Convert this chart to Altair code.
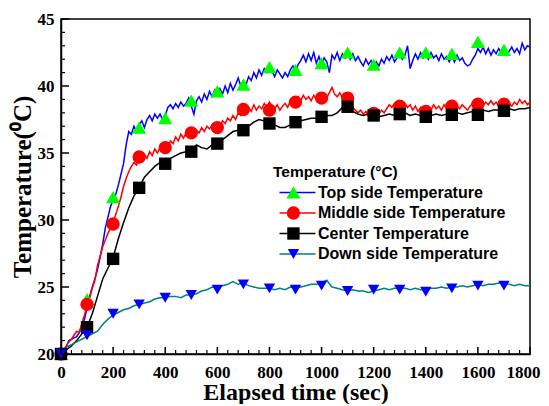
import altair as alt
import pandas as pd

names = ["Top side Temperature", "Middle side Temperature", "Center Temperature", "Down side Temperature"]
line_colors = ["#0000ff", "#ff0000", "#000000", "#008080"]
marker_colors = ["#00ff00", "#ff0000", "#000000", "#0000ff"]
marker_shapes = ["triangle-up", "circle", "square", "triangle-down"]
marker_sizes = [200, 130, 125, 200]

# time axis of the noisy top / middle records (10 s step)
t10 = list(range(0, 1801, 10))
# time axis of the smoother center / down records (20 s step)
t20 = list(range(0, 1801, 20))

top = [
    20.0, 20.2, 20.5, 21.0, 21.1, 21.2, 21.3, 21.6, 22.1, 22.6,
    23.4, 24.3, 25.0, 25.6, 26.3, 27.2, 28.2, 29.4, 30.2, 31.0,
    31.5, 31.9, 32.6, 33.4, 34.2, 35.6, 36.6, 36.4, 37.0, 36.6,
    37.1, 37.4, 36.9, 37.5, 37.8, 37.4, 37.9, 37.6, 37.9, 37.5,
    37.8, 38.4, 38.6, 38.3, 38.7, 38.4, 38.8, 38.5, 38.7, 39.1,
    38.5, 37.9, 38.9, 39.2, 38.8, 39.4, 39.0, 39.6, 39.2, 39.7,
    39.3, 39.8, 39.4, 40.0, 39.5, 40.2, 39.7, 40.1, 40.6, 40.0,
    40.4, 40.1, 40.7, 40.4, 41.0, 40.6, 41.2, 40.8, 41.3, 41.0,
    41.4, 41.1, 40.7, 41.2, 40.9, 40.6, 41.0, 40.7, 41.2, 41.5,
    41.1, 41.6, 41.9, 42.3, 41.8, 42.4, 41.9, 42.5, 41.7, 42.2,
    41.6, 42.1, 41.8, 41.0, 42.3, 42.0, 42.5, 41.9, 42.4, 42.1,
    42.6, 42.0, 42.4, 41.9, 42.2, 41.8, 41.5, 42.0, 41.6, 41.9,
    41.4, 41.8, 41.5, 42.0, 41.7, 42.2, 41.9, 42.3, 41.8, 42.1,
    42.4, 42.0, 42.3, 43.0, 41.3, 41.9, 42.4, 42.0, 42.5, 42.1,
    42.4, 42.0, 42.5, 42.1, 42.3, 41.9, 42.4, 42.0, 42.2, 41.8,
    42.2, 41.8, 42.3, 41.9, 42.1, 41.7, 41.5, 41.6, 42.0, 42.3,
    42.8, 42.5, 42.9, 42.4, 42.8, 42.3, 42.7, 42.4, 42.8, 42.5,
    42.7, 42.3, 42.6, 42.9, 42.5, 42.8, 42.4, 43.2, 42.7, 43.0,
    42.9,
]

middle = [
    20.0, 20.3, 20.6, 20.9, 21.1, 21.4, 21.7, 21.6, 22.3, 22.9,
    23.6, 24.2, 24.9, 25.5, 26.6, 27.3, 28.0, 28.5, 29.0, 29.4,
    29.8, 30.4, 31.0, 31.7, 32.5, 33.1, 33.6, 34.0, 34.3, 34.1,
    34.6, 34.4, 34.9, 34.6, 35.1, 34.8, 35.3, 35.0, 35.4, 35.2,
    35.6, 35.4, 35.9, 35.7, 36.2, 35.9, 36.4, 36.1, 36.5, 36.3,
    36.6, 36.3, 36.7, 36.5, 36.9, 36.6, 37.0, 36.8, 37.1, 36.9,
    37.2, 37.0, 37.4, 37.2, 37.6, 37.4, 37.8, 37.5, 38.0, 37.8,
    38.2, 38.0, 38.4, 38.1, 38.6, 38.2, 38.5, 38.3, 38.7, 38.4,
    38.8, 38.5, 38.3, 38.6, 38.2, 38.5, 38.7, 38.4, 38.9, 39.1,
    38.8, 39.2, 38.9, 39.3, 39.0, 39.2, 38.9, 39.3, 39.0, 39.2,
    38.9, 39.3, 39.1, 39.5, 39.9, 39.4, 39.2, 39.5, 39.1, 39.3,
    39.0, 38.7, 38.4, 38.2, 38.0, 38.2, 37.9, 38.1, 37.8, 38.0,
    37.8, 38.1, 37.9, 38.2, 38.0, 38.3, 38.6, 38.4, 38.7, 38.5,
    38.6, 38.3, 38.7, 38.4, 38.6, 38.2, 38.5, 38.1, 38.4, 38.0,
    38.2, 38.5, 38.2, 38.6, 38.3, 38.5, 38.2, 38.6, 38.3, 38.5,
    38.4, 38.2, 38.5, 38.3, 38.6, 38.4, 38.2, 38.5, 38.7, 38.9,
    38.6, 38.8, 38.5, 38.8, 38.6, 38.9, 38.6, 38.8, 38.5, 38.8,
    38.6, 38.9, 38.7, 38.5, 38.8, 38.6, 39.0, 38.7, 38.9, 38.6,
    38.8,
]

center = [
    20.0, 20.3, 20.6, 21.0, 21.5, 22.0, 23.0, 24.3, 25.6, 26.4,
    27.2, 28.6, 29.8, 30.9, 31.8, 32.4, 33.2, 33.6, 34.0, 34.3,
    34.3, 34.6, 34.8, 35.0, 35.1, 35.2, 35.6, 35.4, 35.3, 35.6,
    35.8, 36.0, 36.3, 36.6, 36.7, 36.7, 37.0, 37.3, 37.5, 37.4,
    37.2, 37.1, 36.9, 36.9, 37.1, 37.3, 37.4, 37.5, 37.6, 37.6,
    37.7, 37.8, 37.8, 38.0, 38.4, 38.5, 38.1, 37.9, 37.8, 37.9,
    37.8, 37.7, 37.8, 37.9, 37.8, 37.9, 38.0, 37.8, 37.9, 37.8,
    37.7, 37.8, 37.9, 37.8, 37.9, 37.9, 38.0, 37.9, 38.0, 38.1,
    38.0, 38.2, 38.1, 38.2, 38.2, 38.2, 38.3, 38.2, 38.3, 38.3,
    38.4,
]

down = [
    20.0, 20.5, 20.7, 20.9, 21.1, 21.3, 21.5, 21.7, 22.2, 22.6,
    22.9, 23.1, 23.3, 23.4, 23.6, 23.7, 23.8, 23.9, 24.1, 24.2,
    24.2, 24.3, 24.3, 24.2, 24.4, 24.4, 24.5, 24.7, 24.8, 25.0,
    24.9, 25.1, 25.2, 25.4, 25.2, 25.3, 25.1, 25.0, 24.9, 24.9,
    24.9, 24.8, 24.9, 24.8, 25.0, 24.9, 25.0, 25.1, 25.2, 25.2,
    25.3, 25.5, 25.0, 24.9, 24.8, 24.7, 24.8, 24.7, 24.7, 24.6,
    24.7, 24.8, 24.9, 24.8, 24.9, 24.9, 24.9, 24.8, 24.9, 24.8,
    24.8, 24.9, 24.9, 25.0, 24.9, 25.0, 25.0, 25.1, 25.0, 25.1,
    25.2, 25.1, 25.2, 25.2, 25.3, 25.2, 25.2, 25.1, 25.2, 25.1,
    25.1,
]

# marker samples every 100 s
t_mark = list(range(0, 1701, 100))
top_mark = [20.0, 24.1, 31.7, 36.9, 37.6, 38.9, 39.6, 40.1, 41.4, 41.2, 41.7, 42.5, 41.6, 42.5, 42.5, 42.4, 43.3, 42.7]
mid_mark = [20.0, 23.7, 29.7, 34.7, 35.4, 36.5, 36.9, 38.25, 38.2, 38.8, 39.1, 39.1, 37.95, 38.5, 38.1, 38.5, 38.65, 38.65]
center_mark = [20.0, 22.0, 27.1, 32.4, 34.2, 35.1, 35.7, 36.7, 37.2, 37.3, 37.7, 38.45, 37.8, 37.9, 37.7, 37.85, 37.85, 38.15]
down_mark = [20.0, 21.4, 23.0, 23.7, 24.2, 24.4, 24.8, 25.2, 24.9, 24.8, 25.1, 24.7, 24.8, 24.8, 24.65, 24.9, 25.1, 25.1]

x_major = list(range(0, 1801, 200))
x_minor = [v for v in range(0, 1801, 40) if v % 200 != 0]
y_major = [20, 25, 30, 35, 40, 45]
y_minor = [v for v in range(20, 46) if v % 5 != 0]

W, H = 469, 335

rows = []
for name, ts, vals in [(names[0], t10, top), (names[1], t10, middle),
                       (names[2], t20, center), (names[3], t20, down)]:
    for t, v in zip(ts, vals):
        rows.append({"t": t, "temp": v, "series": name})
lines_df = pd.DataFrame(rows)

mrows = []
for name, vals in zip(names, [top_mark, mid_mark, center_mark, down_mark]):
    for t, v in zip(t_mark, vals):
        mrows.append({"t": t, "temp": v, "series": name})
marks_df = pd.DataFrame(mrows)

xscale = alt.Scale(domain=[0, 1800], nice=False, zero=False)
yscale = alt.Scale(domain=[20, 45], nice=False, zero=False)

serif = "Liberation Serif"
sans = "Liberation Sans"

xaxis = alt.Axis(
    values=x_major, format="d", title="Elapsed time (sec)", ticks=False, tickSize=0, grid=False,
    labelFont=serif, labelFontSize=17, labelFontWeight="bold", labelColor="black",
    labelPadding=10, labelOverlap=False, labelFlush=False,
    labelOffset={"condition": {"test": "datum.value == 1800", "value": -7}, "value": 0},
    titleFont=serif, titleFontSize=24, titleFontWeight="bold", titleColor="black",
    titlePadding=0, domainColor="black", domainWidth=1.5)
yaxis = alt.Axis(
    values=y_major, format="d", title="Temperature(⁰C)", ticks=False, tickSize=0, grid=False,
    labelFont=serif, labelFontSize=17, labelFontWeight="bold", labelColor="black",
    labelPadding=7, labelOverlap=False, labelFlush=False,
    titleFont=serif, titleFontSize=25, titleFontWeight="bold", titleColor="black",
    titlePadding=2, domainColor="black", domainWidth=1.5)

# legend geometry (plot-relative px)
LX, LY = 212, 146
LINE_SIZE = 36              # symbol unit = sqrt(36)/2 = 3 px
LINE_PATH = "M-0.5,0H11.5"  # 12 units -> 36 px line
LABEL_FS = 16
ROW_PAD = 4.5

lines = alt.Chart(lines_df).mark_line(strokeWidth=1.5, clip=True).encode(
    x=alt.X("t:Q", scale=xscale, axis=xaxis),
    y=alt.Y("temp:Q", scale=yscale, axis=yaxis),
    stroke=alt.Stroke("series:N", scale=alt.Scale(domain=names, range=line_colors),
                      legend=alt.Legend(
                          orient="none", legendX=LX, legendY=LY, padding=0,
                          title="Temperature (°C)", symbolType=LINE_PATH, symbolSize=LINE_SIZE,
                          symbolStrokeWidth=1.5,
                          titleFont=sans, titleFontSize=15.5, titleFontWeight="bold", titleColor="black",
                          titlePadding=4,
                          labelFont=sans, labelFontSize=LABEL_FS, labelFontWeight="bold", labelColor="black",
                          labelLimit=400, labelOffset=29, rowPadding=ROW_PAD)),
    detail="series:N",
    order="t:Q",
)

legend_marks = alt.Legend(
    orient="none", legendX=LX + 19.5 - 7.07, legendY=LY, padding=0,
    title="Temperature (°C)", symbolOpacity=1, symbolStrokeWidth=0,
    titleFont=sans, titleFontSize=15.5, titleFontWeight="bold", titleOpacity=0,
    titlePadding=4,
    labelFont=sans, labelFontSize=LABEL_FS, labelFontWeight="bold", labelOpacity=0,
    labelLimit=400, labelOffset=4, rowPadding=ROW_PAD)

points = alt.Chart(marks_df).mark_point(filled=True, opacity=1).encode(
    x=alt.X("t:Q", scale=xscale, axis=xaxis),
    y=alt.Y("temp:Q", scale=yscale, axis=yaxis),
    fill=alt.Fill("series:N", scale=alt.Scale(domain=names, range=marker_colors), legend=legend_marks),
    shape=alt.Shape("series:N", scale=alt.Scale(domain=names, range=marker_shapes), legend=legend_marks),
    size=alt.Size("series:N", scale=alt.Scale(domain=names, range=marker_sizes), legend=legend_marks),
)

xmaj = alt.Chart(pd.DataFrame({"t": x_major})).mark_rule(color="black", strokeWidth=1.5).encode(
    x=alt.X("t:Q", scale=xscale, axis=xaxis), y=alt.value(H), y2=alt.value(H - 7))
xmin = alt.Chart(pd.DataFrame({"t": x_minor})).mark_rule(color="black", strokeWidth=1.2).encode(
    x=alt.X("t:Q", scale=xscale, axis=xaxis), y=alt.value(H), y2=alt.value(H - 4))
ymaj = alt.Chart(pd.DataFrame({"temp": y_major})).mark_rule(color="black", strokeWidth=1.5).encode(
    y=alt.Y("temp:Q", scale=yscale, axis=yaxis), x=alt.value(0), x2=alt.value(8))
ymin = alt.Chart(pd.DataFrame({"temp": y_minor})).mark_rule(color="black", strokeWidth=1.2).encode(
    y=alt.Y("temp:Q", scale=yscale, axis=yaxis), x=alt.value(0), x2=alt.value(4))

chart = alt.layer(lines, points, xmaj, xmin, ymaj, ymin).resolve_scale(
    stroke="independent", fill="independent", shape="independent", size="independent"
).properties(
    width=W, height=H,
    autosize=alt.AutoSizeParams(type="none"),
    padding={"left": 53, "top": 11, "right": 11, "bottom": 50},
    background="white",
).configure_view(stroke="black", strokeWidth=1.5)

chart.save("out.html", embed_options={"renderer": "svg", "actions": False})
